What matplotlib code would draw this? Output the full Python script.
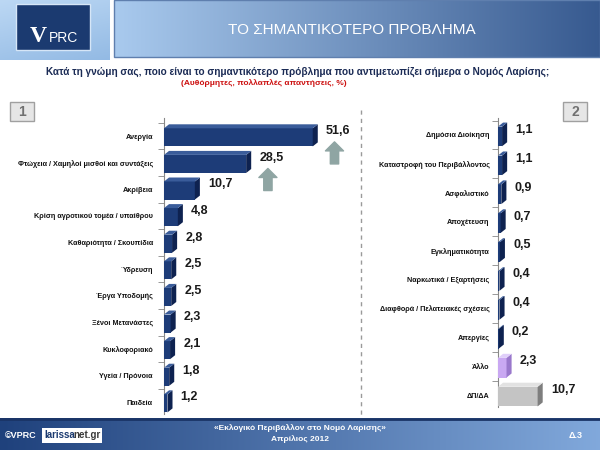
import numpy as np
import matplotlib
matplotlib.use("Agg")
import matplotlib.pyplot as plt
from matplotlib.patches import Polygon, Rectangle
from matplotlib.colors import to_rgb

plt.rcParams['font.family'] = ['Liberation Sans', 'DejaVu Sans']

# data
left_labels = ["Ανεργία", "Φτώχεια / Χαμηλοί μισθοί και συντάξεις", "Ακρίβεια",
               "Κρίση αγροτικού τομέα / υπαίθρου", "Καθαριότητα / Σκουπίδια", "Ύδρευση",
               "Έργα Υποδομής", "Ξένοι Μετανάστες", "Κυκλοφοριακό", "Υγεία / Πρόνοια", "Παιδεία"]
left_values = [51.6, 28.5, 10.7, 4.8, 2.8, 2.5, 2.5, 2.3, 2.1, 1.8, 1.2]

right_labels = ["Δημόσια Διοίκηση", "Καταστροφή του Περιβάλλοντος", "Ασφαλιστικό",
                "Αποχέτευση", "Εγκληματικότητα", "Ναρκωτικά / Εξαρτήσεις",
                "Διαφθορά / Πελατειακές σχέσεις", "Απεργίες", "Άλλο", "ΔΠ/ΔΑ"]
right_values = [1.1, 1.1, 0.9, 0.7, 0.5, 0.4, 0.4, 0.2, 2.3, 10.7]
right_kinds = ["main"] * 8 + ["other", "dk"]

arrow_rows = [0, 1]  # bars with the grey "up" arrow

colors = {
    "main": ("#1d3c78", "#0e2250", "#3a5c9a"),
    "other": ("#c9a8f2", "#9a78cc", "#e0cffa"),
    "dk": ("#c4c4c4", "#7e7e7e", "#e2e2e2"),
}


def fmt(v):
    return f"{v:.1f}".replace(".", ",")


def gradient(bg, x0, x1, y0, y1, c_a, c_b, wx, wy):
    nx, ny = 200, 60
    xx, yy = np.meshgrid(np.linspace(0, 1, nx), np.linspace(0, 1, ny))
    t = np.clip(wx * xx + wy * yy, 0, 1)[..., None]
    img = (1 - t) * np.array(to_rgb(c_a)) + t * np.array(to_rgb(c_b))
    bg.imshow(img, extent=[x0, x1, y1, y0], aspect="auto", zorder=1, interpolation="bilinear")


def bars3d(ax, values, kinds, dx, dy, h=0.68):
    for i, (v, k) in enumerate(zip(values, kinds)):
        face, side, top = colors[k]
        yt, yb = i - h / 2 + 0.05, i + h / 2 + 0.05
        ax.add_patch(Rectangle((0, yt), v, h, facecolor=face, edgecolor="none", zorder=3))
        ax.add_patch(Polygon([(v, yt), (v + dx, yt - dy), (v + dx, yb - dy), (v, yb)],
                             facecolor=side, edgecolor="none", zorder=3))
        ax.add_patch(Polygon([(0, yt), (dx, yt - dy), (v + dx, yt - dy), (v, yt)],
                             facecolor=top, edgecolor="none", zorder=3))
        ax.text(v + dx + 1.6 * dx, i - 0.18, fmt(v), ha="left", va="center",
                fontsize=9, fontweight="bold", color="#1a1a1a", zorder=4)


def style_axis(ax, labels, lim, xmax):
    n = len(labels)
    ax.set_xlim(0, xmax)
    ax.set_ylim(n - 1 + lim[1], lim[0])
    ax.set_yticks(range(n))
    ax.set_yticklabels(labels, fontsize=5.2, fontweight="bold", color="#111111")
    ax.set_yticks(np.arange(n) - 0.5, minor=True)
    ax.tick_params(axis="y", which="major", length=0, pad=8)
    ax.tick_params(axis="y", which="minor", length=4, color="#888888", direction="out")
    ax.set_xticks([])
    for s in ["top", "right", "bottom"]:
        ax.spines[s].set_visible(False)
    ax.spines["left"].set_color("#888888")
    ax.patch.set_alpha(0)


fig = plt.figure(figsize=(6, 4.5), dpi=100)
bg = fig.add_axes([0, 0, 1, 1])
bg.set_xlim(0, 600)
bg.set_ylim(450, 0)
bg.axis("off")

# header
gradient(bg, 0, 110, 0, 60, "#bcd8f4", "#93bae4", 0.3, 0.7)
bg.add_patch(Rectangle((16, 4), 74, 46, facecolor="#1b3a70", edgecolor="#d6e6f7", lw=1, zorder=2))
bg.text(38, 36, "V", fontsize=17, fontweight="bold", color="white", family="Liberation Serif",
        ha="center", va="center", zorder=3)
bg.text(63, 38, "PRC", fontsize=10, color="white", family="Liberation Sans",
        ha="center", va="center", zorder=3)
gradient(bg, 114, 600, 0, 57, "#a9caee", "#23467f", 0.85, 0.0)
bg.add_patch(Rectangle((114, 0), 486, 57, facecolor="none", edgecolor="#5f7fae", lw=1, zorder=2))
bg.text(352, 30, "ΤΟ ΣΗΜΑΝΤΙΚΟΤΕΡΟ ΠΡΟΒΛΗΜΑ", fontsize=11, color="white",
        ha="center", va="center", zorder=3)

bg.text(298, 72, "Κατά τη γνώμη σας, ποιο είναι το σημαντικότερο πρόβλημα που αντιμετωπίζει "
        "σήμερα ο Νομός Λαρίσης;", fontsize=7.2, fontweight="bold", color="#1b2b55",
        ha="center", va="center")
bg.text(264, 83, "(Αυθόρμητες, πολλαπλές απαντήσεις, %)", fontsize=6, fontweight="bold",
        color="#cc1010", ha="center", va="center")

# panel numbers
for x0, t in [(10, "1"), (563, "2")]:
    bg.add_patch(Rectangle((x0, 102), 24, 19, facecolor="#e6e6e6", edgecolor="#a0a0a0", lw=1))
    bg.text(x0 + 12, 112, t, fontsize=10, fontweight="bold", color="#707070",
            ha="center", va="center", family="Liberation Sans")

bg.plot([361, 361], [110, 416], ls=(0, (3, 3)), color="#9a9a9a", lw=1)

# footer
gradient(bg, 0, 600, 418, 450, "#1f417c", "#8cb4e6", 0.9, 0.0)
bg.plot([0, 600], [419, 419], color="#1a3466", lw=2, zorder=2)
bg.text(5, 435, "©VPRC", fontsize=6.5, fontweight="bold", color="white", va="center", zorder=3)
bg.add_patch(Rectangle((42, 428), 60, 15, facecolor="white", edgecolor="none", zorder=2))
bg.text(44, 435.5, "larissa", fontsize=7, fontweight="bold", color="#1b3a70", va="center", zorder=3)
bg.text(73, 435.5, "net.gr", fontsize=7, fontweight="bold", color="#3a3a3a", va="center", zorder=3)
bg.text(300, 428, "«Εκλογικό Περιβάλλον στο Νομό Λαρίσης»", fontsize=6, fontweight="bold",
        color="white", ha="center", va="center", zorder=3)
bg.text(300, 439, "Απρίλιος 2012", fontsize=6, fontweight="bold", color="white",
        ha="center", va="center", zorder=3)
bg.text(576, 435, "Δ.3", fontsize=6.5, fontweight="bold", color="white",
        ha="center", va="center", zorder=3)

# left chart
axl = fig.add_axes([164 / 600, 1 - 414 / 450, 196 / 600, 296 / 450])
style_axis(axl, left_labels, (-0.677, 0.45), 68)
dxl = 1.75
bars3d(axl, left_values, ["main"] * len(left_values), dxl, 0.15)
for i in arrow_rows:
    x = left_values[i] + dxl + 5.8
    axl.annotate("", xy=(x, i + 0.22), xytext=(x, i + 1.05),
                 arrowprops=dict(arrowstyle="simple,head_width=1.3,head_length=0.65,tail_width=0.6",
                                 mutation_scale=10, color="#8fa5a3", shrinkA=0, shrinkB=0))

# right chart
axr = fig.add_axes([498 / 600, 1 - 407 / 450, 100 / 600, 289 / 450])
style_axis(axr, right_labels, (-0.588, 0.41), 27)
axr.tick_params(axis="y", which="major", pad=6)
bars3d(axr, right_values, right_kinds, 1.37, 0.14)

fig.savefig("out.png", dpi=100)
